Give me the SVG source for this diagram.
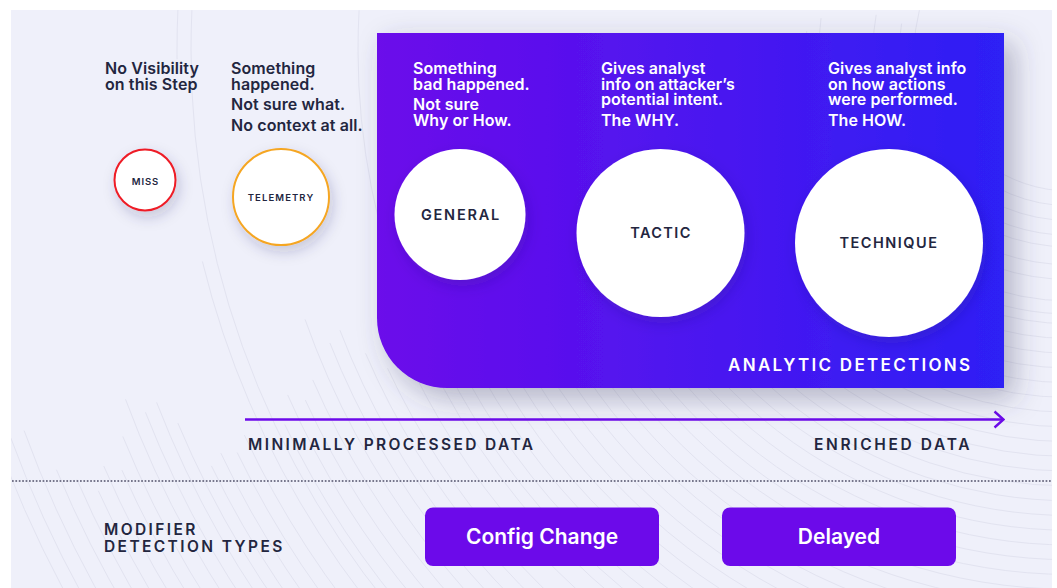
<svg xmlns="http://www.w3.org/2000/svg" width="1057" height="588" viewBox="0 0 1057 588">
<defs>
<linearGradient id="panel" x1="0" y1="0" x2="1" y2="0"><stop offset="0" stop-color="#6c0aea"/><stop offset="1" stop-color="#2d20f5"/></linearGradient>
<clipPath id="bgclip"><rect x="11" y="10" width="1041" height="578"/></clipPath>
<filter id="shadow" x="-30%" y="-30%" width="160%" height="170%"><feDropShadow dx="3" dy="6" stdDeviation="7" flood-color="#2c2c60" flood-opacity=".2"/></filter>
<filter id="panelshadow" x="-10%" y="-10%" width="120%" height="125%"><feDropShadow dx="10" dy="10" stdDeviation="14" flood-color="#3a3a60" flood-opacity=".34"/></filter>
<marker id="arrow" viewBox="0 0 12 20" refX="10" refY="10" markerWidth="12" markerHeight="20" markerUnits="userSpaceOnUse" orient="auto"><path d="M1.500 2L10.500 10L1.500 18" fill="none" stroke="#6c0aea" stroke-width="2.400"/></marker>
</defs>
<style>
text{font-family:Inter,"Noto Sans","Liberation Sans",sans-serif}
.d{fill:#23263f;font-weight:600;font-size:16px;letter-spacing:.1px}
.w{fill:#fff;font-weight:600;font-size:16px;letter-spacing:.05px}
.c{fill:#23263f;font-weight:600;text-anchor:middle}
.cap{fill:#23263f;font-weight:600;font-size:15.5px;letter-spacing:2.4px}
.btn{fill:#6c0aea}
.bt{fill:#fff;font-weight:600;font-size:21px;text-anchor:middle}
.arcs circle{fill:none;stroke:#e2e3f0;stroke-width:1;cx:1070px;cy:50px}
</style>
<rect x="11" y="10" width="1041" height="578" fill="#eff0fa"/>
<g class="arcs" clip-path="url(#bgclip)">
<circle r="141" pathLength="360" stroke-dasharray="165 1000"/>
<circle r="155.750" pathLength="360" stroke-dasharray="194.800 1000"/>
<circle r="170.500" pathLength="360" stroke-dasharray="188.900 1000"/>
<circle r="185.250" pathLength="360" stroke-dasharray="165 1000"/>
<circle r="197" pathLength="360" stroke-dasharray="190.300 1000"/>
<circle r="214.750" pathLength="360" stroke-dasharray="165 1000"/>
<circle r="229.500" pathLength="360" stroke-dasharray="165 1000"/>
<circle r="251" pathLength="360" stroke-dasharray="187.300 1000"/>
<circle r="264" pathLength="360" stroke-dasharray="184.100 1000"/>
<circle r="273.750" pathLength="360" stroke-dasharray="165 1000"/>
<circle r="288.500" pathLength="360" stroke-dasharray="165 1000"/>
<circle r="303.250" pathLength="360" stroke-dasharray="165 1000"/>
<circle r="318" pathLength="360" stroke-dasharray="165 1000"/>
<circle r="332.750" pathLength="360" stroke-dasharray="165 1000"/>
<circle r="347.500" pathLength="360" stroke-dasharray="165 1000"/>
<circle r="362.250" pathLength="360" stroke-dasharray="165 1000"/>
<circle r="377" pathLength="360" stroke-dasharray="165 1000"/>
<circle r="391.750" pathLength="360" stroke-dasharray="165 1000"/>
<circle r="406.500" pathLength="360" stroke-dasharray="165 1000"/>
<circle r="421.250" pathLength="360" stroke-dasharray="165 1000"/>
<circle r="436" pathLength="360" stroke-dasharray="165 1000"/>
<circle r="450.750" pathLength="360" stroke-dasharray="165 1000"/>
<circle r="465.500" pathLength="360" stroke-dasharray="165 1000"/>
<circle r="480.250" pathLength="360" stroke-dasharray="165 1000"/>
<circle r="495" pathLength="360" stroke-dasharray="165 1000"/>
<circle r="509.750" pathLength="360" stroke-dasharray="165 1000"/>
<circle r="524.500" pathLength="360" stroke-dasharray="165 1000"/>
<circle r="539.250" pathLength="360" stroke-dasharray="165 1000"/>
<circle r="554" pathLength="360" stroke-dasharray="165 1000"/>
<circle r="568.750" pathLength="360" stroke-dasharray="165 1000"/>
<circle r="583.500" pathLength="360" stroke-dasharray="165 1000"/>
<circle r="598.250" pathLength="360" stroke-dasharray="165 1000"/>
<circle r="613" pathLength="360" stroke-dasharray="165 1000"/>
<circle r="627.750" pathLength="360" stroke-dasharray="165 1000"/>
<circle r="642.500" pathLength="360" stroke-dasharray="165 1000"/>
<circle r="657.250" pathLength="360" stroke-dasharray="165 1000"/>
<circle r="672" pathLength="360" stroke-dasharray="165 1000"/>
<circle r="686.750" pathLength="360" stroke-dasharray="165 1000"/>
<circle r="700" pathLength="360" stroke-dasharray="165 1000"/>
<circle r="712" pathLength="360" stroke-dasharray="183.200 1000"/>
<circle r="731" pathLength="360" stroke-dasharray="158 1000"/>
<circle r="753" pathLength="360" stroke-dasharray="155 1000"/>
<circle r="767" pathLength="360" stroke-dasharray="156.700 1000"/>
<circle r="782" pathLength="360" stroke-dasharray="159 1000"/>
<circle r="796" pathLength="360" stroke-dasharray="158.400 1000"/>
<circle r="811" pathLength="360" stroke-dasharray="160.600 1000"/>
<circle r="826" pathLength="360" stroke-dasharray="156.450 1000"/>
<circle r="841" pathLength="360" stroke-dasharray="155.400 1000"/>
<circle r="855" pathLength="360" stroke-dasharray="156.200 1000"/>
<circle r="870" pathLength="360" stroke-dasharray="154.500 1000"/>
<circle r="879" pathLength="360" stroke-dasharray="182.600 1000"/>
<circle r="893" pathLength="360" stroke-dasharray="166.300 13.100 3.300 1000"/>
<circle r="911" pathLength="360" stroke-dasharray="155 1000"/>
<circle r="925" pathLength="360" stroke-dasharray="154.200 1000"/>
<circle r="940" pathLength="360" stroke-dasharray="154.600 1000"/>
<circle r="954" pathLength="360" stroke-dasharray="154.150 1000"/>
<circle r="967" pathLength="360" stroke-dasharray="157.300 1000"/>
<circle r="979" pathLength="360" stroke-dasharray="158.900 1000"/>
<circle r="993" pathLength="360" stroke-dasharray="158.600 1000"/>
<circle r="1007" pathLength="360" stroke-dasharray="159.700 1000"/>
<circle r="1023" pathLength="360" stroke-dasharray="157.800 1000"/>
<circle r="1037" pathLength="360" stroke-dasharray="156.100 1000"/>
<circle r="1052" pathLength="360" stroke-dasharray="156.700 1000"/>
<circle r="1067" pathLength="360" stroke-dasharray="155.600 1000"/>
<circle r="1082" pathLength="360" stroke-dasharray="156.600 1000"/>
<circle r="1097" pathLength="360" stroke-dasharray="157.500 1000"/>
<circle r="1113" pathLength="360" stroke-dasharray="160 1000"/>
<circle r="1128" pathLength="360" stroke-dasharray="159.900 1000"/>
<circle r="1142" pathLength="360" stroke-dasharray="158.400 1000"/>
</g>
<g id="connectors">
<line x1="245" y1="419.500" x2="1003" y2="419.500" stroke="#6c0aea" stroke-width="2.500" marker-end="url(#arrow)"/>
<line x1="12" y1="481" x2="1052" y2="481" stroke="#77778c" stroke-width="2" stroke-dasharray="1.700 1.700"/>
</g>
<g id="panel-analytic">
<path d="M377 33H1004V388H447A70 70 0 0 1 377 318Z" fill="url(#panel)" filter="url(#panelshadow)"/>
<text x="728" y="371" fill="#fff" font-weight="600" font-size="17" letter-spacing="2.300">ANALYTIC DETECTIONS</text>
</g>
<g id="node-miss">
<text class="d"><tspan x="105" y="74">No Visibility</tspan><tspan x="105" y="90">on this Step</tspan></text>
<circle cx="145" cy="180" r="30.500" fill="#fff" stroke="#ee1c25" stroke-width="2" filter="url(#shadow)"/>
<text class="c" x="145.500" y="184.500" font-size="9.500" letter-spacing=".9">MISS</text>
</g>
<g id="node-telemetry">
<text class="d"><tspan x="231" y="74">Something</tspan><tspan x="231" y="90">happened.</tspan><tspan x="231" y="110">Not sure what.</tspan><tspan x="231" y="131">No context at all.</tspan></text>
<circle cx="281" cy="197" r="48" fill="#fff" stroke="#f5a623" stroke-width="2" filter="url(#shadow)"/>
<text class="c" x="281" y="200.500" font-size="9.500" letter-spacing="1.100">TELEMETRY</text>
</g>
<g id="node-general">
<text class="w"><tspan x="413" y="74">Something</tspan><tspan x="413" y="90">bad happened.</tspan><tspan x="413" y="110">Not sure</tspan><tspan x="413" y="126">Why or How.</tspan></text>
<circle cx="460" cy="214.500" r="65.500" fill="#fff" filter="url(#shadow)"/>
<text class="c" x="461" y="220" font-size="14.500" letter-spacing="1.800">GENERAL</text>
</g>
<g id="node-tactic">
<text class="w"><tspan x="601" y="74">Gives analyst</tspan><tspan x="601" y="90">info on attacker’s</tspan><tspan x="601" y="105">potential intent.</tspan><tspan x="601" y="126">The WHY.</tspan></text>
<circle cx="660.500" cy="233" r="84" fill="#fff" filter="url(#shadow)"/>
<text class="c" x="661" y="238" font-size="14.500" letter-spacing="1.400">TACTIC</text>
</g>
<g id="node-technique">
<text class="w"><tspan x="828" y="74">Gives analyst info</tspan><tspan x="828" y="90">on how actions</tspan><tspan x="828" y="105">were performed.</tspan><tspan x="828" y="126">The HOW.</tspan></text>
<circle cx="889" cy="243" r="94" fill="#fff" filter="url(#shadow)"/>
<text class="c" x="889" y="248" font-size="14.500" letter-spacing="1.500">TECHNIQUE</text>
</g>
<g id="axis-labels">
<text class="cap" x="248" y="450">MINIMALLY PROCESSED DATA</text>
<text class="cap" x="814" y="450" style="letter-spacing:2.650px">ENRICHED DATA</text>
<text class="cap"><tspan x="104" y="535">MODIFIER</tspan><tspan x="104" y="552">DETECTION TYPES</tspan></text>
</g>
<g id="node-config">
<rect class="btn" x="425" y="507.500" width="234" height="58.500" rx="8"/>
<text class="bt" x="542" y="544">Config Change</text>
</g>
<g id="node-delayed">
<rect class="btn" x="722" y="507.500" width="234" height="58.500" rx="8"/>
<text class="bt" x="839" y="544">Delayed</text>
</g>
</svg>
